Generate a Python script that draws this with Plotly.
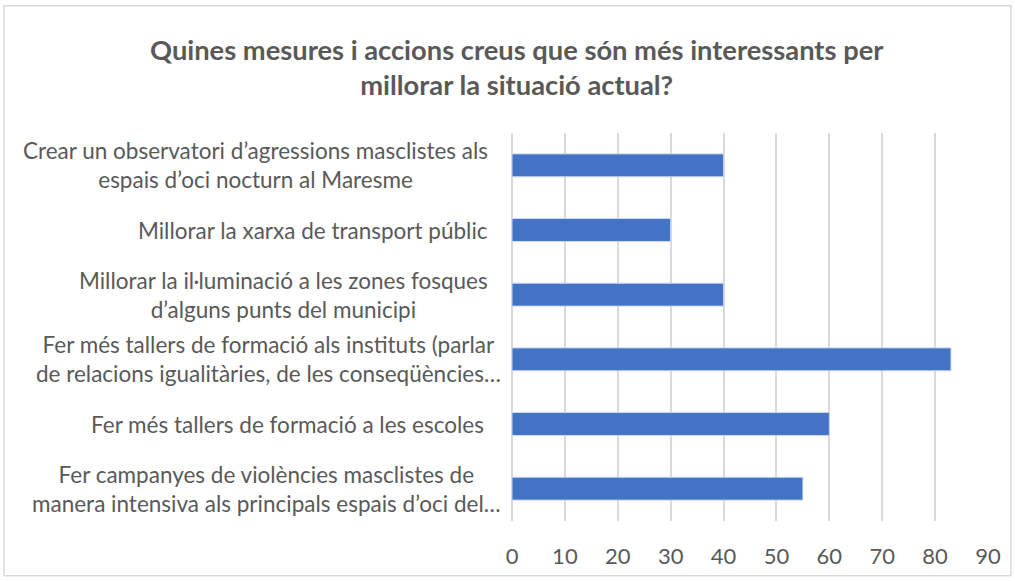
import plotly.graph_objects as go

categories = [
    "Crear un observatori d’agressions masclistes als<br>espais d’oci nocturn al Maresme",
    "Millorar la xarxa de transport públic",
    "Millorar la il·luminació a les zones fosques<br>d’alguns punts del municipi",
    "Fer més tallers de formació als instituts (parlar<br>de relacions igualitàries, de les conseqüències…",
    "Fer més tallers de formació a les escoles",
    "Fer campanyes de violències masclistes de<br>manera intensiva als principals espais d’oci del…",
]
values = [40, 30, 40, 83, 60, 55]
tick_values = [0, 10, 20, 30, 40, 50, 60, 70, 80, 90]
title_text = "Quines mesures i accions creus que són més interessants per<br>millorar la situació actual?"

FONT = "Lato"
GREY = "#595959"
W, H = 1015, 581
L, R, T, B = 512, 27, 133, 58
PW, PH = W - L - R, H - T - B

fig = go.Figure()
fig.add_trace(go.Bar(
    x=values,
    y=list(range(len(categories))),
    orientation="h",
    marker=dict(color="#4472C4", line=dict(color="#c9d6ef", width=1)),
    hoverinfo="x",
))

annotations = []
for i, c in enumerate(categories):
    # labels whose text was cut with an ellipsis sit slightly further right
    shift = -22
    if c.endswith("…"):
        shift += 13
    elif c.startswith("Fer més tallers de formació a les"):
        shift -= 4
    annotations.append(dict(
        text=c, x=0, xref="paper", y=i, yref="y",
        xanchor="right", yanchor="middle", align="center",
        xshift=shift, showarrow=False,
        font=dict(family=FONT, size=22.5, color=GREY),
    ))
annotations.append(dict(
    text="<b>" + title_text + "</b>",
    x=(517 - L) / PW, xref="paper",
    y=1 + (T - 66.5) / PH, yref="paper",
    xanchor="center", yanchor="middle", align="center", showarrow=False,
    font=dict(family=FONT, size=27.3, color=GREY),
))

fig.update_layout(
    width=W, height=H,
    margin=dict(l=L, r=R, t=T, b=B),
    paper_bgcolor="white", plot_bgcolor="white",
    showlegend=False,
    bargap=0.646,
    annotations=annotations,
    font=dict(family=FONT, size=22, color=GREY),
    shapes=[dict(type="rect", xref="paper", yref="paper",
                 x0=(4 - L) / PW, x1=(1011 - L) / PW,
                 y0=-(578 - (H - B)) / PH, y1=1 + (T - 5) / PH,
                 line=dict(color="#d9d9d9", width=1.5), fillcolor="rgba(0,0,0,0)", layer="below")],
)
fig.update_xaxes(
    range=[0, 90], tickvals=tick_values, showgrid=True, gridcolor="#d9d9d9", gridwidth=1.5,
    zeroline=True, zerolinecolor="#d9d9d9", zerolinewidth=1.5, showline=False,
    tickfont=dict(family=FONT, size=22, color=GREY), ticklabelstandoff=20, fixedrange=True,
)
fig.update_yaxes(
    range=[len(categories) - 0.5, -0.5], showticklabels=False, showgrid=False,
    zeroline=False, showline=False, fixedrange=True,
)

fig.write_html("out.html", config={"displayModeBar": False},
               post_script="document.body.style.margin='0';")
